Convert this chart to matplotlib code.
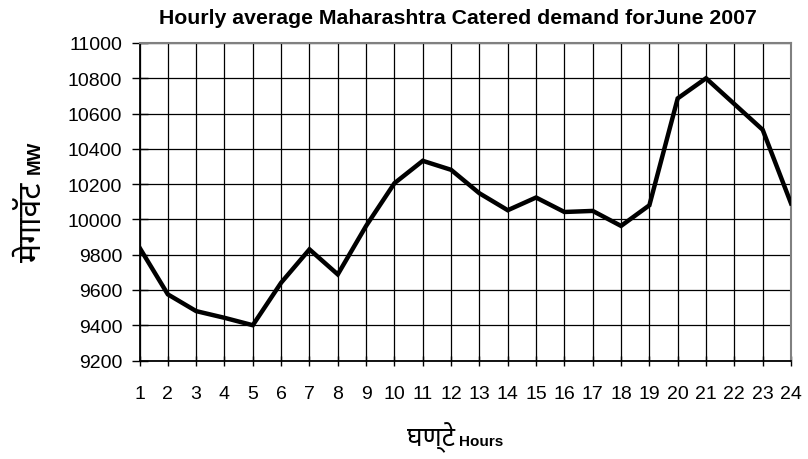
import matplotlib

matplotlib.use("Agg")
import matplotlib.pyplot as plt
from matplotlib import font_manager
from matplotlib.ft2font import FT2Font

hours = list(range(1, 25))
demand_mw = [
    9840, 9575, 9480, 9442, 9400, 9641, 9830, 9688, 9963, 10205, 10332, 10281,
    10148, 10052, 10124, 10042, 10048, 9963, 10080, 10686, 10800, 10654, 10508, 10091,
]
y_ticks = list(range(9200, 11001, 200))

title = "Hourly average Maharashtra Catered demand forJune 2007"
ylabel_hi, ylabel_en = "मेगावॅट", "MW"
xlabel_hi, xlabel_en = "घण्टे", "Hours"


def find_devanagari_font():
    # prefer a plain sans Devanagari face; otherwise anything that has the glyphs
    preferred = ["Noto Sans Devanagari", "Hind", "Mukta", "Poppins", "Anek Devanagari"]
    found = []
    for f in font_manager.fontManager.ttflist:
        try:
            cmap = FT2Font(f.fname).get_charmap()
        except Exception:
            continue
        if ord("ग") in cmap and ord("ॅ") in cmap:
            found.append(f.name)
    for name in preferred:
        if name in found:
            return name
    return found[0] if found else None


deva = find_devanagari_font()
deva_family = [deva, "DejaVu Sans"] if deva else ["DejaVu Sans"]
latin = "Liberation Sans"

W, H = 808, 460
fig = plt.figure(figsize=(W / 100, H / 100), dpi=100)
ax = fig.add_axes([139.5 / W, 1 - 361.5 / H, (791 - 139.5) / W, (361.5 - 44) / H])

ax.plot(hours, demand_mw, color="black", lw=3.2, solid_joinstyle="miter", zorder=3)

ax.set_xlim(1, 24)
ax.set_ylim(9200, 11000)
ax.set_xticks(hours)
ax.set_yticks(y_ticks)
ax.grid(True, color="black", lw=0.9)
ax.set_axisbelow(True)
ax.tick_params(direction="inout", width=1, labelsize=14)
ax.tick_params(axis="y", length=11, pad=7)
ax.tick_params(axis="x", length=7, pad=14)
for lbl in ax.get_xticklabels() + ax.get_yticklabels():
    lbl.set_fontfamily(latin)

ax.spines["left"].set_color("black")
ax.spines["bottom"].set_color("black")
ax.spines["left"].set_linewidth(1.3)
ax.spines["bottom"].set_linewidth(1.3)
ax.spines["top"].set_color("#808080")
ax.spines["right"].set_color("#808080")
ax.spines["top"].set_linewidth(1.5)
ax.spines["right"].set_linewidth(1.5)

fig.text(457.5 / W, 1 - 23.5 / H, title, ha="center", va="baseline",
         fontsize=15.3, fontweight="bold", fontfamily=latin)

# x axis label: hindi + english pieces
fig.text(455 / W, 1 - 446 / H, xlabel_hi, ha="right", va="baseline",
         fontsize=19, fontweight="bold", family=deva_family)
fig.text(459 / W, 1 - 446 / H, xlabel_en, ha="left", va="baseline",
         fontsize=11, fontweight="bold", fontfamily=latin)

# y axis label, rotated
fig.text(41 / W, 1 - 262 / H, ylabel_hi, rotation=90, rotation_mode="anchor",
         ha="left", va="baseline", fontsize=23, fontweight="bold", family=deva_family)
fig.text(40 / W, 1 - 174 / H, ylabel_en, rotation=90, rotation_mode="anchor",
         ha="left", va="baseline", fontsize=13.5, fontweight="bold", fontfamily=latin)

fig.savefig("out.png", dpi=100)
